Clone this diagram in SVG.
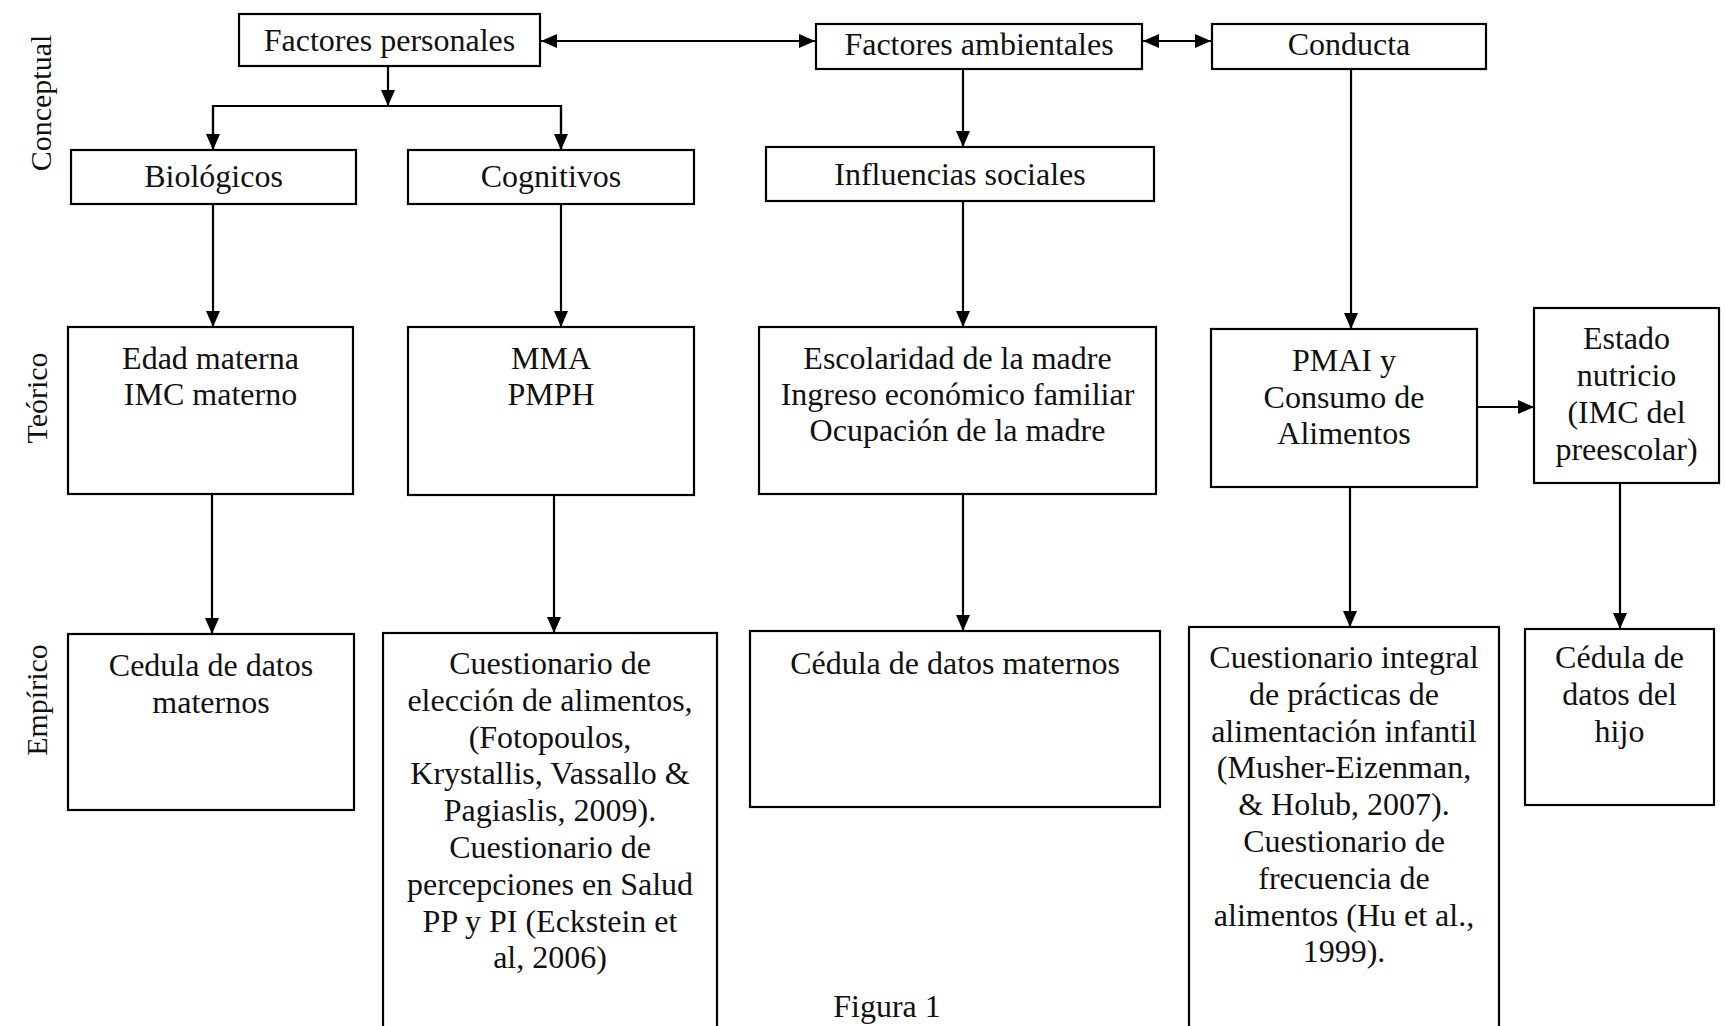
<svg xmlns="http://www.w3.org/2000/svg" width="1725" height="1026" viewBox="0 0 1725 1026">
<style>
  .box { fill: #fff; stroke: #000; stroke-width: 2.2; }
  .t { font-family: "Liberation Serif", "Times New Roman", serif; font-size: 32px; fill: #111; text-anchor: middle; }
  .lbl { font-family: "Liberation Serif", "Times New Roman", serif; font-size: 30px; fill: #111; text-anchor: middle; }
  .c { fill: none; stroke: #000; stroke-width: 2.2; }
</style>
<defs>
  <marker id="ah" markerUnits="userSpaceOnUse" markerWidth="18" markerHeight="14" refX="16" refY="7" orient="auto-start-reverse">
    <path d="M0,0 L16,7 L0,14 z" fill="#000"/>
  </marker>
</defs>
<rect width="1725" height="1026" fill="#fff"/>

<g id="labels">
  <g transform="translate(40,103) rotate(-90)"><text class="lbl" x="0" y="11">Conceptual</text></g>
  <g transform="translate(36,398) rotate(-90)"><text class="lbl" x="0" y="11">Teórico</text></g>
  <g transform="translate(36,700) rotate(-90)"><text class="lbl" x="0" y="11">Empírico</text></g>
</g>

<g id="connectors">
  <line class="c" x1="541" y1="41" x2="815" y2="41" marker-start="url(#ah)" marker-end="url(#ah)"/>
  <line class="c" x1="1143" y1="41" x2="1211" y2="41" marker-start="url(#ah)" marker-end="url(#ah)"/>
  <line class="c" x1="388" y1="66" x2="388" y2="106" marker-end="url(#ah)"/>
  <polyline class="c" points="213,150 213,106 561,106 561,150"/>
  <line class="c" x1="213" y1="106" x2="213" y2="150" marker-end="url(#ah)"/>
  <line class="c" x1="561" y1="106" x2="561" y2="150" marker-end="url(#ah)"/>
  <line class="c" x1="963" y1="69" x2="963" y2="147" marker-end="url(#ah)"/>
  <line class="c" x1="213" y1="204" x2="213" y2="327" marker-end="url(#ah)"/>
  <line class="c" x1="561" y1="204" x2="561" y2="327" marker-end="url(#ah)"/>
  <line class="c" x1="963" y1="201" x2="963" y2="327" marker-end="url(#ah)"/>
  <line class="c" x1="1351" y1="69" x2="1351" y2="329" marker-end="url(#ah)"/>
  <line class="c" x1="1477" y1="407" x2="1534" y2="407" marker-end="url(#ah)"/>
  <line class="c" x1="212" y1="494" x2="212" y2="634" marker-end="url(#ah)"/>
  <line class="c" x1="554" y1="495" x2="554" y2="633" marker-end="url(#ah)"/>
  <line class="c" x1="963" y1="494" x2="963" y2="631" marker-end="url(#ah)"/>
  <line class="c" x1="1350" y1="487" x2="1350" y2="627" marker-end="url(#ah)"/>
  <line class="c" x1="1620" y1="483" x2="1620" y2="629" marker-end="url(#ah)"/>
</g>

<g id="n-factores-personales">
  <rect class="box" x="239" y="14" width="301" height="52"/>
  <text class="t" x="389.5" y="51">Factores personales</text>
</g>
<g id="n-factores-ambientales">
  <rect class="box" x="816" y="24" width="326" height="45"/>
  <text class="t" x="979" y="55">Factores ambientales</text>
</g>
<g id="n-conducta">
  <rect class="box" x="1212" y="24" width="274" height="45"/>
  <text class="t" x="1349" y="55">Conducta</text>
</g>
<g id="n-biologicos">
  <rect class="box" x="71" y="150" width="285" height="54"/>
  <text class="t" x="213.5" y="187">Biológicos</text>
</g>
<g id="n-cognitivos">
  <rect class="box" x="408" y="150" width="286" height="54"/>
  <text class="t" x="551" y="187">Cognitivos</text>
</g>
<g id="n-influencias">
  <rect class="box" x="766" y="147" width="388" height="54"/>
  <text class="t" x="960" y="185">Influencias sociales</text>
</g>
<g id="n-edad">
  <rect class="box" x="68" y="327" width="285" height="167"/>
  <text class="t" x="210.5" y="369">Edad materna</text>
  <text class="t" x="210.5" y="405">IMC materno</text>
</g>
<g id="n-mma">
  <rect class="box" x="408" y="327" width="286" height="168"/>
  <text class="t" x="551" y="369">MMA</text>
  <text class="t" x="551" y="405">PMPH</text>
</g>
<g id="n-escolaridad">
  <rect class="box" x="759" y="327" width="397" height="167"/>
  <text class="t" x="957.5" y="369">Escolaridad de la madre</text>
  <text class="t" x="957.5" y="405">Ingreso económico familiar</text>
  <text class="t" x="957.5" y="441">Ocupación de la madre</text>
</g>
<g id="n-pmai">
  <rect class="box" x="1211" y="329" width="266" height="158"/>
  <text class="t" x="1344" y="371">PMAI y</text>
  <text class="t" x="1344" y="408">Consumo de</text>
  <text class="t" x="1344" y="444">Alimentos</text>
</g>
<g id="n-estado">
  <rect class="box" x="1534" y="308" width="185" height="175"/>
  <text class="t" x="1626.5" y="349">Estado</text>
  <text class="t" x="1626.5" y="386">nutricio</text>
  <text class="t" x="1626.5" y="423">(IMC del</text>
  <text class="t" x="1626.5" y="460">preescolar)</text>
</g>
<g id="n-cedula-maternos-1">
  <rect class="box" x="68" y="634" width="286" height="176"/>
  <text class="t" x="211" y="676">Cedula de datos</text>
  <text class="t" x="211" y="713">maternos</text>
</g>
<g id="n-cuestionario-eleccion">
  <rect class="box" x="383" y="633" width="334" height="410"/>
  <text class="t" x="550" y="674">Cuestionario de</text>
  <text class="t" x="550" y="711">elección de alimentos,</text>
  <text class="t" x="550" y="748">(Fotopoulos,</text>
  <text class="t" x="550" y="784">Krystallis, Vassallo &amp;</text>
  <text class="t" x="550" y="821">Pagiaslis, 2009).</text>
  <text class="t" x="550" y="858">Cuestionario de</text>
  <text class="t" x="550" y="895">percepciones en Salud</text>
  <text class="t" x="550" y="932">PP y PI (Eckstein et</text>
  <text class="t" x="550" y="968">al, 2006)</text>
</g>
<g id="n-cedula-maternos-2">
  <rect class="box" x="750" y="631" width="410" height="176"/>
  <text class="t" x="955" y="674">Cédula de datos maternos</text>
</g>
<g id="n-cuestionario-integral">
  <rect class="box" x="1189" y="627" width="310" height="420"/>
  <text class="t" x="1344" y="668">Cuestionario integral</text>
  <text class="t" x="1344" y="705">de prácticas de</text>
  <text class="t" x="1344" y="742">alimentación infantil</text>
  <text class="t" x="1344" y="778">(Musher-Eizenman,</text>
  <text class="t" x="1344" y="815">&amp; Holub, 2007).</text>
  <text class="t" x="1344" y="852">Cuestionario de</text>
  <text class="t" x="1344" y="889">frecuencia de</text>
  <text class="t" x="1344" y="926">alimentos (Hu et al.,</text>
  <text class="t" x="1344" y="962">1999).</text>
</g>
<g id="n-cedula-hijo">
  <rect class="box" x="1525" y="629" width="189" height="176"/>
  <text class="t" x="1619.5" y="668">Cédula de</text>
  <text class="t" x="1619.5" y="705">datos del</text>
  <text class="t" x="1619.5" y="742">hijo</text>
</g>
<text class="t" x="887" y="1017">Figura 1</text>
</svg>
